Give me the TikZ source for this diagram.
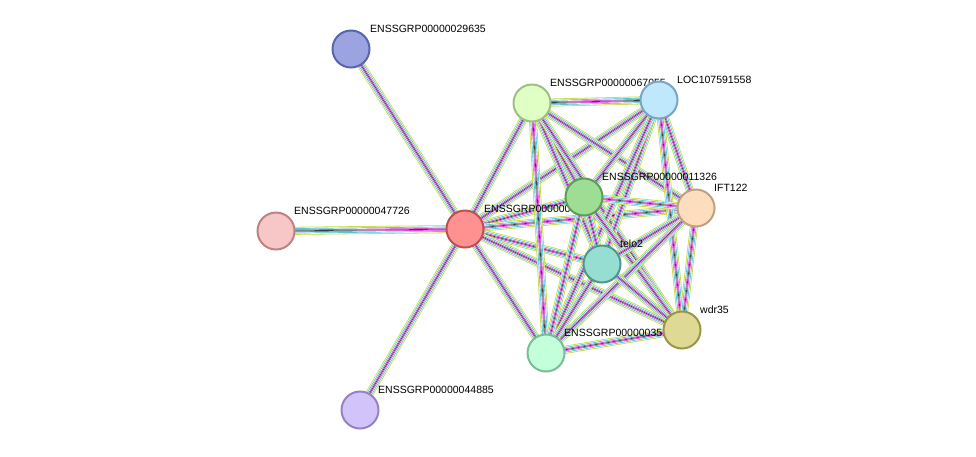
\documentclass[tikz,border=0pt]{standalone}
\usepackage{fontspec}
\setmainfont{Liberation Sans}
\definecolor{yg}{HTML}{C4DB3A}
\definecolor{cy}{HTML}{3CC0DC}
\definecolor{mg}{HTML}{D530D8}
\definecolor{dk}{HTML}{404040}
\tikzset{
  prot/.style={circle,draw,line width=2pt,minimum size=37pt,inner sep=0pt},
  lab/.style={anchor=south west,font=\fontsize{10.5}{12}\selectfont,inner sep=0pt}
}
\newcommand{\stredge}[2]{%
  \draw[line width=8pt,yg] (#1) -- (#2);
  \draw[line width=6.4pt,white] (#1) -- (#2);
  \draw[line width=5.2pt,cy] (#1) -- (#2);
  \draw[line width=3.8pt,white] (#1) -- (#2);
  \draw[line width=2.6pt,mg] (#1) -- (#2);
  \draw[line width=1.2pt,white] (#1) -- (#2);
  \draw[line width=0.7pt,dk] (#1) -- (#2);}
\begin{document}
\begin{tikzpicture}[x=1pt,y=-1pt]
\useasboundingbox (0,0) rectangle (976,456);
\coordinate (A) at (351,49);
\coordinate (B) at (276,231);
\coordinate (C) at (465,229);
\coordinate (D) at (360,410);
\coordinate (E) at (532,103);
\coordinate (F) at (659,100);
\coordinate (G) at (584,197);
\coordinate (H) at (696,208);
\coordinate (I) at (602,264);
\coordinate (J) at (682,330);
\coordinate (K) at (546,353);
\foreach \p in {A,B,D,E,F,G,H,I,J,K}{\stredge{C}{\p}}
\foreach \a/\b in {E/F,E/G,E/H,E/I,E/J,E/K,F/G,F/H,F/I,F/J,F/K,G/H,G/I,G/J,G/K,H/I,H/J,H/K,I/J,I/K,J/K}{\stredge{\a}{\b}}
\node[lab] (lA) at (370,33) {ENSSGRP00000029635};
\node[lab] (lB) at (294,215) {ENSSGRP00000047726};
\node[lab] (lC) at (484,213) {ENSSGRP00000005317};
\node[lab] (lD) at (378,394) {ENSSGRP00000044885};
\node[lab] (lE) at (550,87) {ENSSGRP00000067055};
\node[lab] (lF) at (677,84) {LOC107591558};
\node[lab] (lG) at (602,181) {ENSSGRP00000011326};
\node[lab] (lH) at (714,192) {IFT122};
\node[lab] (lI) at (620,248) {telo2};
\node[lab] (lJ) at (700,314) {wdr35};
\node[lab] (lK) at (564,337) {ENSSGRP00000035110};
\node[prot,fill={rgb,255:red,155;green,164;blue,224},draw={rgb,255:red,90;green,100;blue,170}] (nA) at (A) {};
\node[prot,fill={rgb,255:red,247;green,198;blue,198},draw={rgb,255:red,190;green,130;blue,130}] (nB) at (B) {};
\node[prot,fill={rgb,255:red,255;green,145;blue,145},draw={rgb,255:red,190;green,80;blue,80}] (nC) at (C) {};
\node[prot,fill={rgb,255:red,210;green,195;blue,250},draw={rgb,255:red,150;green,130;blue,195}] (nD) at (D) {};
\node[prot,fill={rgb,255:red,224;green,255;blue,196},draw={rgb,255:red,160;green,190;blue,130}] (nE) at (E) {};
\node[prot,fill={rgb,255:red,192;green,232;blue,252},draw={rgb,255:red,120;green,165;blue,195}] (nF) at (F) {};
\node[prot,fill={rgb,255:red,158;green,222;blue,148},draw={rgb,255:red,95;green,155;blue,90}] (nG) at (G) {};
\node[prot,fill={rgb,255:red,254;green,220;blue,190},draw={rgb,255:red,190;green,160;blue,130}] (nH) at (H) {};
\node[prot,fill={rgb,255:red,150;green,222;blue,210},draw={rgb,255:red,80;green,150;blue,140}] (nI) at (I) {};
\node[prot,fill={rgb,255:red,222;green,218;blue,150},draw={rgb,255:red,155;green,150;blue,70}] (nJ) at (J) {};
\node[prot,fill={rgb,255:red,196;green,255;blue,220},draw={rgb,255:red,120;green,190;blue,150}] (nK) at (K) {};
\end{tikzpicture}
\end{document}
